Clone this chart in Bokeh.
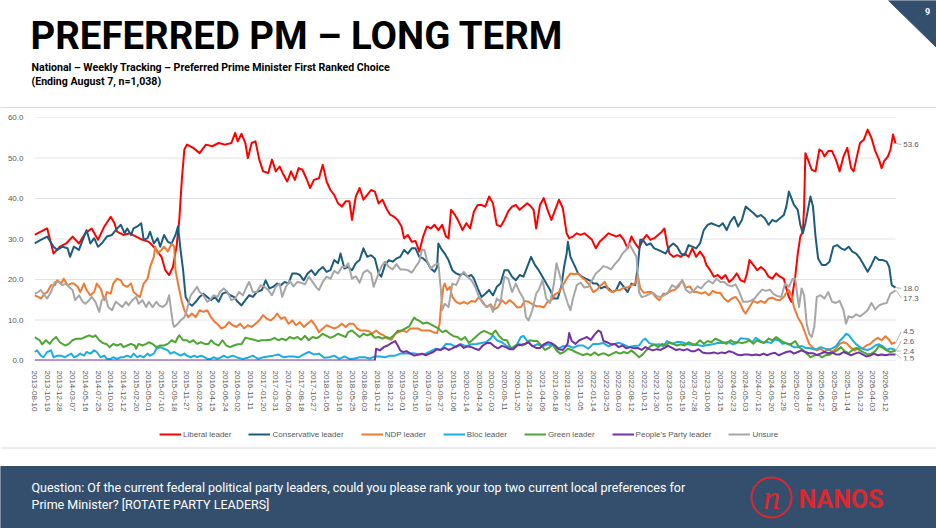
from bokeh.plotting import figure
from bokeh.models import Range1d, FixedTicker, NumeralTickFormatter, Legend, LegendItem
from bokeh.layouts import column
from bokeh.embed import file_html
from bokeh.resources import INLINE
from bokeh.core.properties import value

# ---------------- data ----------------
TICK_LABELS = [
    "2013-08-10", "2013-10-19", "2013-12-28", "2014-03-07", "2014-05-16", "2014-07-25", "2014-10-03",
    "2014-12-12", "2015-02-20", "2015-05-01", "2015-07-10", "2015-09-18", "2015-11-27", "2016-02-05",
    "2016-04-15", "2016-06-24", "2016-09-02", "2016-11-11", "2017-01-20", "2017-03-31", "2017-06-09",
    "2017-08-18", "2017-10-27", "2018-01-05", "2018-03-16", "2018-05-25", "2018-08-03", "2018-10-12",
    "2018-12-21", "2019-03-01", "2019-05-10", "2019-07-19", "2019-09-27", "2019-12-06", "2020-02-14",
    "2020-04-24", "2020-07-03", "2020-09-11", "2020-11-20", "2021-01-29", "2021-04-09", "2021-06-18",
    "2021-08-27", "2021-11-05", "2022-01-14", "2022-03-25", "2022-06-03", "2022-08-12", "2022-10-21",
    "2022-12-30", "2023-03-10", "2023-05-19", "2023-07-28", "2023-10-06", "2023-12-15", "2024-02-23",
    "2024-05-03", "2024-07-12", "2024-09-20", "2024-11-29", "2025-02-07", "2025-04-18", "2025-06-27",
    "2025-09-05", "2025-11-14", "2026-01-23", "2026-04-03", "2026-06-12",
]
WEEKS_PER_TICK = 10
Y_TICKS = [0, 10, 20, 30, 40, 50, 60]

SERIES_NAMES = ["Liberal leader", "Conservative leader", "NDP leader", "Bloc leader",
                "Green leader", "People's Party leader", "Unsure"]

LIB_WK = [0, 5, 10, 15, 20, 25, 30, 35, 40, 45, 50, 55, 60, 63, 65, 70, 75, 80, 85, 90, 95, 100, 103, 106,
          109, 112, 114, 116, 118, 120, 125, 130, 135, 140, 145, 150, 155, 158, 160, 163, 166, 168, 171, 174,
          177, 180, 184, 187, 190, 193, 196, 199, 202, 205, 208, 211, 214, 217, 220, 224, 227, 230, 233, 236,
          239, 242, 245, 248, 250, 253, 256, 259, 262, 265, 268, 271, 274, 277, 280, 283, 286, 289, 291, 294,
          297, 300, 303, 306, 309, 312, 315, 318, 321, 324, 326, 328, 331, 334, 337, 340, 343, 346, 349, 352,
          355, 358, 361, 364, 367, 370, 373, 376, 379, 382, 385, 388, 391, 393, 395, 398, 401, 404, 407, 410,
          413, 416, 419, 421, 424, 427, 430, 433, 436, 439, 442, 445, 448, 452, 455, 458, 461, 464, 467, 470,
          473, 476, 479, 482, 485, 488, 491, 494, 496, 498, 500, 503, 506, 509, 512, 515, 518, 521, 524, 527,
          529, 532, 535, 538, 541, 544, 547, 550, 553, 556, 559, 561, 563, 566, 569, 572, 575, 578, 581, 584,
          587, 590, 592, 594, 596, 599, 601, 603, 605, 606, 607, 609, 612, 615, 618, 620, 622, 625, 628, 631,
          634, 637, 640, 643, 645, 647, 650, 653, 656, 659, 662, 665, 667, 669, 672, 674, 676, 678]
LIB_PCT = [31.0, 31.8, 32.6, 26.4, 28.1, 28.9, 30.6, 28.9, 31.4, 32.6, 29.8, 33.1, 35.5, 33.9, 31.8, 31.0,
           31.4, 30.6, 29.8, 29.3, 27.7, 25.6, 22.3, 21.1, 23.1, 28.5, 34.7, 44.6, 52.1, 53.3, 52.5, 51.2,
           53.3, 52.9, 53.7, 53.3, 53.7, 56.2, 54.1, 56.0, 53.7, 50.0, 53.7, 54.1, 49.6, 46.7, 46.3, 49.6,
           46.7, 47.9, 45.9, 44.2, 46.7, 44.6, 47.5, 47.1, 45.0, 42.6, 44.6, 45.0, 48.3, 44.2, 42.1, 40.9,
           38.8, 38.0, 39.3, 39.3, 34.7, 40.5, 42.6, 39.7, 40.9, 42.1, 41.7, 38.8, 39.7, 37.6, 36.0, 35.5,
           34.7, 33.1, 30.2, 31.0, 29.3, 29.5, 26.9, 30.6, 33.1, 32.6, 33.5, 32.2, 33.5, 30.6, 30.2, 37.2,
           36.0, 34.3, 32.2, 33.9, 32.6, 36.8, 38.4, 38.4, 38.0, 40.5, 38.8, 33.5, 33.1, 34.7, 36.8, 38.0,
           38.4, 37.2, 38.0, 38.8, 38.0, 37.2, 32.6, 38.4, 40.1, 37.2, 34.7, 37.2, 39.7, 37.6, 31.4, 30.2,
           30.6, 31.4, 31.0, 31.4, 30.6, 29.8, 27.7, 29.3, 30.2, 31.4, 31.0, 30.6, 31.0, 29.8, 27.7, 30.6,
           28.9, 27.7, 29.8, 31.0, 29.8, 30.2, 31.0, 31.8, 32.6, 28.9, 26.4, 25.6, 26.0, 25.6, 26.4, 25.6,
           27.7, 25.6, 26.9, 25.6, 23.6, 22.3, 20.7, 21.1, 20.2, 21.1, 19.4, 20.2, 21.5, 19.8, 19.4, 21.5,
           24.8, 23.6, 22.3, 23.1, 22.3, 20.7, 20.2, 21.5, 20.7, 20.2, 17.8, 15.7, 14.5, 20.7, 26.4, 30.6,
           31.8, 38.0, 51.2, 49.6, 47.1, 46.7, 52.1, 51.7, 50.4, 51.7, 51.7, 49.6, 46.7, 50.4, 52.5, 47.5,
           46.7, 49.6, 53.7, 54.5, 57.0, 55.0, 51.7, 49.6, 47.5, 49.2, 50.4, 52.1, 55.8, 53.6]

CON_WK = [0, 5, 10, 15, 18, 22, 26, 28, 31, 35, 39, 41, 44, 47, 50, 53, 57, 61, 65, 68, 71, 73, 76, 78, 81,
          84, 86, 89, 91, 94, 97, 99, 102, 105, 108, 111, 113, 115, 117, 119, 122, 124, 127, 130, 133, 136,
          139, 142, 145, 148, 151, 154, 157, 160, 163, 166, 169, 172, 175, 179, 182, 185, 188, 191, 194, 197,
          200, 203, 206, 209, 212, 215, 218, 221, 224, 227, 230, 233, 236, 239, 241, 244, 247, 250, 253, 256,
          259, 262, 265, 268, 271, 273, 276, 279, 282, 285, 288, 291, 294, 297, 300, 303, 306, 309, 312, 315,
          317, 318, 320, 323, 326, 329, 332, 335, 338, 341, 344, 346, 349, 352, 355, 358, 361, 364, 367, 370,
          373, 376, 379, 382, 385, 388, 391, 394, 397, 400, 403, 406, 409, 412, 415, 417, 419, 420, 422, 425,
          428, 431, 434, 437, 440, 443, 446, 449, 452, 455, 458, 461, 464, 467, 470, 473, 475, 477, 479, 482,
          485, 488, 491, 494, 497, 500, 503, 506, 509, 512, 515, 518, 521, 524, 527, 530, 533, 536, 539, 542,
          545, 548, 551, 554, 557, 560, 563, 566, 569, 572, 575, 578, 581, 584, 587, 590, 592, 594, 596, 598,
          601, 603, 605, 607, 609, 611, 613, 615, 617, 620, 623, 626, 629, 632, 635, 638, 641, 644, 647, 650,
          653, 656, 659, 662, 665, 668, 671, 673, 675, 678]
CON_PCT = [28.9, 29.8, 30.6, 28.1, 27.3, 28.1, 27.7, 25.6, 28.1, 27.3, 30.6, 32.2, 28.9, 30.2, 28.1, 28.9,
           30.6, 31.0, 32.6, 33.5, 31.4, 32.6, 31.0, 32.6, 33.1, 33.9, 29.8, 30.2, 31.8, 28.9, 30.2, 28.1,
           31.0, 29.3, 28.9, 31.0, 33.1, 27.3, 22.3, 15.7, 14.0, 13.5, 14.5, 15.7, 16.5, 15.7, 14.9, 15.7,
           14.5, 16.5, 16.9, 16.1, 15.7, 14.5, 13.6, 14.9, 16.1, 15.7, 16.9, 17.4, 19.8, 17.8, 18.2, 19.0,
           18.6, 19.4, 19.0, 21.5, 21.5, 21.1, 19.8, 21.5, 22.3, 21.1, 22.3, 23.1, 21.9, 22.3, 24.8, 24.0,
           26.4, 22.7, 23.1, 22.3, 24.0, 24.8, 27.7, 25.6, 26.0, 25.2, 21.5, 20.7, 23.6, 24.8, 24.4, 25.2,
           25.6, 27.3, 26.4, 27.7, 27.7, 25.6, 25.2, 24.4, 22.7, 21.9, 23.1, 28.9, 27.7, 26.4, 24.8, 22.3,
           21.5, 21.1, 21.5, 20.7, 21.1, 20.2, 17.8, 15.7, 16.5, 17.4, 16.1, 18.2, 19.0, 22.3, 22.3, 20.7,
           19.8, 21.1, 20.7, 23.1, 25.6, 23.6, 22.3, 20.7, 19.0, 17.4, 15.3, 15.3, 18.6, 23.1, 26.4, 29.3,
           25.6, 23.6, 21.5, 20.7, 20.2, 19.8, 19.0, 19.0, 17.8, 18.2, 17.8, 16.9, 17.4, 19.4, 18.2, 16.9,
           19.0, 18.6, 23.1, 29.8, 29.8, 28.5, 28.9, 27.7, 27.3, 26.9, 26.4, 28.1, 28.9, 28.1, 26.4, 26.0,
           28.5, 28.1, 27.7, 28.9, 32.2, 33.5, 33.9, 33.5, 33.1, 33.9, 32.2, 34.3, 35.5, 33.1, 34.7, 38.0,
           37.2, 36.4, 35.5, 35.9, 35.1, 33.5, 34.7, 34.3, 35.1, 35.9, 38.0, 41.7, 40.1, 38.4, 37.2, 33.5,
           31.4, 33.9, 37.2, 40.5, 38.0, 30.6, 25.2, 23.6, 23.6, 24.4, 28.1, 28.5, 27.7, 27.3, 28.1, 26.9,
           26.4, 25.2, 23.6, 21.9, 23.6, 25.6, 24.8, 24.8, 24.4, 23.1, 18.6, 18.0]

NDP_WK = [0, 3, 5, 8, 10, 13, 16, 18, 21, 23, 26, 29, 31, 34, 36, 39, 41, 44, 47, 49, 52, 55, 57, 60, 62,
          65, 68, 70, 73, 76, 78, 81, 83, 86, 89, 91, 94, 95, 97, 100, 102, 105, 108, 110, 111, 113, 116, 118,
          121, 124, 127, 130, 133, 136, 139, 142, 145, 147, 150, 153, 156, 159, 162, 165, 168, 171, 174, 177,
          180, 183, 186, 189, 191, 194, 197, 200, 203, 206, 209, 212, 215, 218, 221, 224, 227, 230, 233, 236,
          239, 242, 245, 248, 251, 254, 257, 260, 263, 266, 269, 272, 275, 278, 281, 284, 287, 290, 293, 296,
          299, 302, 305, 308, 311, 314, 317, 319, 320, 321, 322, 323, 325, 327, 329, 332, 335, 338, 341, 344,
          347, 350, 353, 356, 359, 362, 365, 368, 371, 374, 377, 380, 383, 386, 389, 392, 395, 398, 401, 404,
          407, 410, 413, 416, 419, 422, 425, 428, 431, 434, 437, 440, 443, 446, 449, 452, 455, 458, 461, 464,
          467, 470, 473, 475, 477, 480, 483, 486, 489, 492, 495, 498, 501, 504, 507, 510, 513, 516, 519, 522,
          525, 528, 531, 534, 537, 540, 543, 546, 549, 552, 555, 558, 560, 563, 566, 569, 572, 575, 578, 581,
          584, 587, 590, 592, 594, 596, 598, 601, 604, 607, 610, 613, 616, 619, 622, 625, 628, 631, 634, 637,
          640, 643, 646, 649, 652, 655, 658, 661, 664, 667, 670, 673, 675, 678]
NDP_PCT = [16.1, 15.7, 15.3, 16.5, 16.9, 18.6, 18.6, 19.8, 19.0, 20.2, 18.6, 19.0, 19.0, 18.2, 16.9, 19.0,
           17.4, 16.1, 16.9, 19.0, 17.8, 14.9, 16.9, 16.5, 19.0, 20.2, 19.8, 18.6, 18.2, 19.0, 16.9, 16.1,
           15.7, 19.0, 20.2, 23.1, 25.6, 28.1, 26.4, 27.3, 28.1, 26.9, 28.9, 28.1, 22.3, 19.0, 14.5, 12.4,
           10.7, 11.6, 10.7, 12.4, 12.0, 12.4, 10.7, 9.5, 8.7, 7.9, 8.3, 9.5, 8.7, 8.3, 9.1, 7.9, 8.7, 8.3,
           9.1, 9.9, 11.2, 10.3, 9.9, 10.7, 11.6, 10.3, 10.7, 9.1, 9.9, 8.7, 9.5, 8.3, 9.1, 9.9, 8.7, 7.0,
           7.9, 8.7, 8.3, 7.9, 8.3, 9.1, 8.3, 9.1, 9.1, 7.9, 7.4, 7.4, 7.3, 6.6, 7.4, 6.6, 6.2, 5.4, 5.1,
           6.6, 7.0, 7.4, 7.0, 7.9, 7.9, 7.9, 7.4, 7.4, 7.4, 7.0, 6.8, 9.1, 13.2, 15.7, 18.2, 19.0, 17.4,
           18.2, 15.7, 14.5, 14.0, 14.5, 14.0, 14.7, 14.5, 15.7, 14.2, 13.2, 13.9, 12.6, 13.2, 14.9, 14.0,
           14.9, 14.2, 13.1, 13.2, 14.7, 14.5, 13.9, 13.4, 13.4, 13.1, 14.5, 14.9, 16.4, 16.9, 18.6, 20.2,
           21.5, 21.3, 21.5, 20.5, 19.8, 18.6, 16.9, 17.5, 18.6, 19.4, 17.4, 16.9, 17.4, 17.4, 18.0, 18.0,
           18.6, 19.0, 21.1, 17.8, 16.7, 16.9, 16.9, 15.7, 14.9, 16.5, 16.5, 17.2, 17.4, 18.2, 19.8, 18.0,
           18.3, 16.9, 16.9, 16.5, 16.9, 16.1, 17.2, 16.7, 16.7, 15.3, 14.5, 15.3, 15.7, 14.5, 12.4, 11.6,
           13.2, 14.7, 14.2, 14.7, 14.2, 15.3, 15.5, 15.0, 14.9, 15.7, 16.7, 17.4, 16.1, 13.2, 10.7, 9.1,
           6.6, 4.1, 3.1, 2.5, 2.9, 2.1, 2.9, 2.1, 2.9, 4.1, 4.5, 4.1, 3.1, 2.5, 3.1, 2.9, 3.7, 4.1, 5.0,
           5.6, 5.0, 6.0, 5.1, 4.1, 4.5]

BLOC_WK = [0, 2, 5, 7, 10, 13, 15, 18, 21, 24, 26, 29, 31, 34, 36, 39, 41, 44, 47, 49, 52, 55, 57, 60, 62,
           65, 68, 70, 73, 76, 78, 81, 83, 86, 89, 91, 94, 96, 99, 102, 105, 107, 110, 112, 115, 118, 120, 123,
           126, 128, 131, 134, 136, 139, 141, 144, 147, 149, 152, 156, 160, 164, 168, 172, 176, 180, 184, 188,
           192, 196, 200, 204, 208, 212, 216, 220, 224, 228, 232, 236, 240, 244, 248, 252, 256, 260, 264, 268,
           272, 276, 280, 284, 288, 292, 296, 300, 304, 308, 312, 316, 320, 324, 328, 332, 336, 340, 344, 348,
           352, 356, 359, 361, 364, 368, 372, 376, 380, 383, 385, 388, 392, 396, 400, 404, 408, 412, 416, 420,
           424, 428, 432, 436, 440, 444, 448, 452, 456, 460, 464, 468, 472, 476, 479, 481, 484, 488, 492, 495,
           498, 502, 506, 510, 514, 518, 522, 526, 530, 534, 538, 542, 546, 550, 553, 556, 559, 562, 565, 568,
           571, 574, 577, 580, 583, 586, 589, 592, 595, 598, 601, 604, 607, 610, 613, 616, 619, 622, 625, 628,
           631, 634, 637, 639, 641, 644, 647, 650, 653, 656, 659, 662, 665, 668, 671, 674, 678]
BLOC_PCT = [2.1, 2.5, 1.2, 0.8, 2.1, 2.5, 0.8, 1.2, 1.2, 0.8, 1.2, 1.7, 0.8, 1.2, 1.7, 1.2, 2.1, 1.7, 2.5,
            2.1, 0.8, 1.2, 0.4, 0.4, 0.8, 0.4, 0.8, 0.8, 1.2, 0.8, 1.7, 0.8, 1.2, 0.8, 1.7, 1.2, 1.7, 2.9,
            3.3, 2.9, 2.5, 1.7, 2.1, 1.7, 1.2, 1.7, 1.2, 0.8, 1.2, 0.8, 1.2, 0.8, 0.4, 0.4, 0.8, 0.4, 0.8,
            1.2, 0.7, 1.2, 0.7, 0.4, 0.7, 1.2, 0.4, 0.8, 1.0, 1.2, 1.5, 0.8, 1.0, 1.0, 0.8, 1.5, 2.1, 1.5,
            1.7, 0.7, 0.8, 1.2, 0.4, 1.0, 0.4, 0.5, 0.8, 0.8, 0.5, 1.0, 1.0, 0.8, 1.2, 1.2, 1.7, 1.7, 1.8,
            1.7, 1.5, 1.7, 2.3, 2.9, 2.6, 4.1, 4.0, 3.3, 4.0, 3.5, 4.0, 4.1, 4.3, 4.6, 5.4, 6.2, 5.0, 4.5,
            3.5, 3.1, 4.0, 5.8, 6.1, 4.8, 3.5, 4.0, 3.5, 4.0, 3.7, 2.9, 3.5, 3.7, 3.1, 3.7, 3.7, 2.9, 4.1,
            4.1, 4.3, 3.5, 4.0, 4.4, 3.9, 3.3, 3.6, 3.7, 5.0, 5.4, 4.3, 3.9, 4.0, 3.5, 4.8, 4.1, 4.6, 4.5,
            4.0, 3.8, 3.8, 3.6, 3.8, 4.0, 4.3, 4.3, 4.6, 4.0, 4.3, 5.5, 5.4, 5.3, 4.5, 5.6, 5.0, 4.3, 4.6,
            4.3, 5.2, 5.0, 4.1, 4.3, 3.8, 3.3, 3.3, 3.6, 3.1, 3.1, 2.8, 2.8, 3.3, 3.0, 2.6, 3.0, 3.5, 4.8,
            5.8, 6.6, 6.3, 5.1, 4.0, 3.3, 2.8, 2.6, 3.0, 3.7, 4.0, 3.5, 2.6, 3.0, 2.6]

GRN_WK = [0, 4, 6, 9, 12, 14, 17, 20, 24, 27, 30, 33, 37, 40, 43, 46, 48, 51, 54, 57, 59, 62, 65, 68, 70,
          73, 76, 79, 80, 82, 85, 88, 90, 93, 96, 99, 102, 105, 108, 111, 113, 114, 117, 120, 122, 125, 128,
          131, 134, 137, 139, 142, 145, 148, 151, 154, 157, 160, 163, 166, 169, 173, 176, 179, 182, 186, 189,
          192, 195, 198, 201, 204, 207, 210, 213, 216, 219, 222, 224, 227, 230, 233, 236, 239, 242, 245, 247,
          250, 253, 256, 259, 262, 265, 268, 271, 274, 277, 280, 283, 286, 289, 292, 295, 297, 299, 300, 303,
          306, 309, 312, 315, 318, 321, 324, 327, 330, 333, 336, 339, 342, 345, 348, 351, 354, 357, 360, 363,
          366, 369, 372, 375, 378, 381, 384, 387, 390, 393, 396, 399, 402, 405, 408, 411, 414, 417, 420, 423,
          426, 429, 432, 435, 438, 441, 444, 447, 449, 452, 455, 458, 461, 464, 467, 470, 473, 476, 479, 482,
          485, 488, 491, 494, 497, 500, 503, 506, 509, 512, 515, 518, 521, 524, 527, 530, 533, 536, 539, 542,
          545, 548, 551, 554, 557, 560, 563, 566, 569, 572, 575, 578, 581, 584, 587, 590, 593, 596, 599, 602,
          605, 608, 611, 614, 617, 620, 623, 626, 629, 632, 635, 638, 641, 644, 647, 650, 653, 656, 659, 662,
          665, 668, 671, 674, 678]
GRN_PCT = [5.8, 5.0, 4.0, 5.0, 4.1, 5.0, 5.8, 4.5, 3.7, 4.1, 5.0, 5.4, 5.4, 5.8, 6.2, 5.8, 6.2, 5.0, 4.3,
           4.0, 3.3, 4.1, 3.7, 4.1, 3.3, 3.7, 4.1, 3.7, 2.9, 4.1, 3.7, 4.1, 4.5, 4.1, 3.3, 3.7, 3.7, 4.1,
           5.0, 4.5, 5.8, 6.2, 5.0, 5.0, 4.5, 5.0, 4.1, 4.5, 4.1, 4.1, 5.0, 4.1, 3.7, 5.0, 3.7, 3.3, 3.7,
           4.0, 4.0, 5.6, 5.4, 5.1, 4.8, 5.0, 5.0, 5.1, 5.6, 5.0, 5.4, 5.0, 5.8, 5.4, 5.8, 5.1, 6.1, 5.0,
           5.8, 5.5, 5.8, 6.6, 6.1, 5.6, 6.0, 6.6, 6.2, 5.8, 7.0, 7.4, 6.6, 5.8, 6.6, 6.2, 6.6, 5.6, 5.8,
           5.4, 5.8, 5.5, 6.2, 7.3, 7.4, 7.9, 8.4, 9.5, 10.6, 10.3, 9.8, 9.1, 9.4, 8.9, 8.4, 7.9, 7.0, 7.4,
           6.6, 6.0, 5.8, 5.1, 5.8, 4.3, 5.1, 6.0, 6.8, 7.3, 6.9, 6.4, 7.4, 6.0, 5.1, 5.0, 3.1, 3.3, 4.1,
           3.7, 4.1, 5.0, 4.8, 4.8, 3.7, 2.6, 3.1, 4.0, 2.5, 1.7, 2.1, 2.9, 2.6, 2.1, 1.7, 1.3, 1.7, 1.3,
           2.0, 1.3, 1.7, 1.7, 1.2, 1.7, 2.1, 1.7, 2.1, 1.8, 2.5, 1.7, 0.8, 1.5, 2.6, 3.5, 4.0, 3.3, 4.1,
           3.7, 4.5, 4.1, 3.7, 4.0, 3.7, 4.5, 4.1, 4.0, 5.0, 4.1, 4.8, 4.5, 5.4, 5.0, 4.5, 4.1, 5.0, 4.5,
           4.5, 4.3, 4.5, 5.0, 4.1, 5.0, 4.5, 4.5, 5.4, 5.0, 5.8, 5.1, 4.5, 4.1, 4.1, 4.8, 3.3, 2.6, 1.7,
           0.8, 1.2, 1.5, 0.8, 1.3, 1.4, 2.0, 2.5, 3.3, 2.3, 1.8, 2.6, 3.1, 2.5, 2.0, 1.5, 1.7, 2.3, 3.6,
           3.1, 2.5, 2.1, 2.4]

PPC_WK = [0, 268, 269, 272, 275, 278, 281, 284, 286, 288, 290, 293, 296, 299, 302, 305, 308, 311, 314, 317,
          320, 323, 326, 329, 332, 335, 338, 341, 344, 347, 350, 353, 356, 359, 362, 365, 368, 371, 374, 377,
          380, 383, 386, 389, 392, 395, 398, 401, 404, 407, 410, 413, 416, 419, 420, 421, 423, 426, 429, 432,
          435, 438, 441, 444, 446, 448, 451, 454, 457, 460, 463, 466, 469, 472, 475, 478, 481, 484, 487, 490,
          493, 496, 499, 502, 505, 508, 511, 514, 517, 520, 523, 526, 529, 532, 535, 538, 541, 544, 547, 550,
          553, 556, 559, 562, 565, 568, 571, 574, 577, 580, 583, 586, 589, 592, 595, 598, 601, 604, 607, 610,
          613, 616, 619, 622, 625, 628, 631, 634, 637, 640, 643, 646, 649, 652, 655, 658, 661, 664, 667, 670,
          673, 678]
PPC_PCT = [0.0, 0.0, 2.9, 2.5, 3.3, 3.7, 4.3, 4.8, 3.7, 2.5, 2.1, 2.3, 1.7, 1.2, 1.4, 1.7, 1.3, 1.7, 2.1,
           2.8, 2.6, 3.1, 2.6, 3.0, 3.5, 4.0, 3.1, 3.5, 3.3, 2.9, 2.6, 3.7, 4.3, 4.3, 3.5, 3.0, 3.6, 3.3,
           2.8, 2.8, 3.7, 3.9, 4.1, 4.5, 3.6, 3.1, 3.1, 4.0, 4.5, 4.3, 3.7, 2.8, 2.6, 3.7, 4.5, 6.8, 4.8,
           4.1, 5.0, 5.4, 5.8, 5.1, 6.4, 7.4, 7.0, 4.8, 4.5, 4.0, 4.1, 3.3, 3.7, 3.0, 3.3, 3.0, 3.1, 2.6,
           3.3, 2.8, 2.5, 2.8, 2.6, 3.1, 3.6, 3.1, 2.6, 2.8, 2.5, 2.8, 2.3, 2.3, 2.8, 2.0, 1.8, 1.8, 2.0,
           1.7, 2.0, 1.8, 2.3, 2.0, 1.5, 1.3, 1.5, 1.5, 1.3, 1.5, 1.3, 1.7, 1.3, 1.7, 1.9, 1.3, 1.7, 2.1,
           2.3, 1.7, 2.1, 2.5, 2.1, 1.8, 1.8, 1.3, 1.7, 2.1, 1.8, 2.0, 1.5, 1.5, 2.1, 1.7, 1.3, 1.7, 2.0,
           1.5, 1.0, 1.2, 1.7, 1.3, 1.5, 1.3, 1.5, 1.5]

UNS_WK = [0, 3, 5, 8, 10, 13, 16, 19, 22, 25, 27, 30, 32, 35, 38, 40, 43, 45, 48, 51, 53, 56, 58, 61, 64,
          66, 69, 72, 74, 77, 80, 82, 85, 88, 90, 93, 96, 98, 101, 104, 106, 109, 110, 113, 115, 118, 120, 123,
          125, 128, 130, 133, 136, 138, 141, 144, 146, 149, 152, 155, 158, 161, 164, 167, 169, 172, 175, 178,
          181, 184, 187, 190, 193, 195, 198, 201, 204, 207, 210, 213, 216, 219, 222, 224, 227, 230, 233, 236,
          239, 242, 245, 247, 250, 253, 256, 259, 262, 265, 267, 270, 273, 276, 279, 282, 285, 288, 291, 294,
          297, 300, 303, 305, 307, 309, 312, 315, 318, 320, 321, 323, 326, 329, 332, 335, 338, 341, 344, 347,
          350, 353, 356, 359, 361, 364, 367, 370, 373, 376, 379, 382, 385, 387, 389, 392, 395, 397, 400, 403,
          406, 409, 411, 414, 417, 420, 422, 424, 427, 430, 433, 436, 439, 442, 445, 448, 451, 454, 457, 460,
          463, 466, 468, 471, 474, 476, 478, 481, 484, 487, 490, 493, 496, 499, 502, 505, 508, 510, 513, 516,
          519, 522, 525, 528, 531, 534, 537, 540, 543, 546, 549, 552, 555, 558, 561, 564, 567, 570, 573, 576,
          579, 582, 585, 588, 591, 594, 597, 599, 601, 602, 604, 606, 608, 610, 612, 614, 616, 619, 622, 625,
          628, 631, 634, 637, 639, 641, 644, 647, 650, 653, 656, 659, 662, 665, 668, 671, 674, 676, 678]
UNS_PCT = [16.5, 16.9, 17.4, 16.1, 15.3, 16.9, 19.4, 19.4, 18.6, 19.0, 18.2, 17.4, 14.9, 16.1, 14.5, 14.0,
           14.9, 15.7, 14.5, 12.0, 14.9, 15.7, 13.2, 12.4, 14.5, 14.0, 13.2, 14.5, 13.6, 14.9, 15.7, 14.0,
           14.9, 13.2, 14.5, 13.2, 14.5, 13.6, 13.2, 14.0, 16.1, 9.1, 8.3, 9.1, 9.9, 10.7, 12.4, 16.1, 16.9,
           18.2, 16.9, 16.1, 14.5, 14.9, 16.1, 15.7, 16.9, 17.8, 16.9, 14.9, 15.3, 16.9, 16.1, 18.2, 19.4,
           16.9, 16.9, 18.6, 18.2, 17.4, 16.1, 18.2, 19.0, 15.7, 18.2, 19.7, 18.3, 19.4, 19.2, 18.8, 20.7,
           19.4, 18.0, 17.4, 19.4, 20.7, 20.2, 22.1, 21.5, 23.1, 23.1, 24.0, 20.2, 20.8, 19.2, 21.7, 22.3,
           21.5, 18.2, 20.7, 23.1, 24.4, 23.1, 22.5, 23.8, 22.5, 22.5, 22.3, 21.7, 23.1, 24.4, 27.3, 27.3,
           24.8, 22.7, 23.6, 24.0, 17.4, 12.4, 14.0, 13.2, 19.0, 18.6, 20.7, 21.9, 20.7, 19.8, 18.2, 15.7,
           14.5, 13.2, 13.6, 12.0, 15.3, 14.5, 20.7, 20.2, 16.9, 19.0, 16.9, 15.3, 10.7, 9.9, 12.4, 16.5,
           17.4, 19.8, 15.3, 14.2, 19.0, 24.0, 20.7, 16.9, 14.0, 12.4, 15.3, 18.6, 19.2, 18.0, 18.2, 19.8,
           21.5, 22.3, 23.3, 23.0, 22.5, 23.8, 24.8, 26.4, 27.4, 28.9, 27.3, 25.6, 16.9, 15.7, 15.9, 16.4,
           16.7, 15.9, 15.7, 16.1, 16.9, 18.6, 18.0, 19.0, 19.8, 17.4, 16.7, 17.2, 18.3, 17.8, 19.0, 19.7,
           19.0, 20.2, 19.4, 19.4, 18.6, 18.3, 18.8, 16.9, 14.5, 14.5, 14.7, 15.3, 16.5, 17.5, 17.2, 17.5,
           16.4, 15.9, 15.7, 19.0, 18.2, 20.2, 20.2, 15.3, 13.2, 17.8, 16.1, 9.1, 6.6, 5.8, 8.3, 15.7, 16.1,
           15.3, 16.9, 14.5, 14.2, 14.7, 12.4, 9.1, 10.9, 10.6, 11.4, 10.9, 11.6, 12.4, 14.2, 12.6, 13.6,
           14.0, 14.2, 16.5, 16.9, 17.3]

# ---------------- styling ----------------
COLORS = ["#FF0000", "#1C5C7E", "#EE7B35", "#1DADE5", "#4CA631", "#7231A5", "#A6A6A6"]
NAVY = "#344F6E"
LOGO_RED = "#E0262D"
TXT = "#595959"
FONT = "Liberation Sans"
HEAD = "Roboto"
# y position (chart units) of each end-of-line label, in series order
END_LABEL_Y = [53.3, 17.8, 7.2, 4.8, 2.3, 0.5, 15.4]

series = [(LIB_WK, LIB_PCT), (CON_WK, CON_PCT), (NDP_WK, NDP_PCT), (BLOC_WK, BLOC_PCT),
          (GRN_WK, GRN_PCT), (PPC_WK, PPC_PCT), (UNS_WK, UNS_PCT)]

W = 936


def no_align(fig):
    if "frame_align" in fig.properties():
        fig.frame_align = False


# ---------------- header (page y 0..108) ----------------
hdr = figure(width=W, height=108, x_range=Range1d(0, W), y_range=Range1d(108, 0),
             output_backend="svg", toolbar_location=None, x_axis_type=None, y_axis_type=None,
             min_border=0, title=None)
no_align(hdr)
hdr.grid.visible = False
hdr.outline_line_color = None
hdr.patch([888, 936, 936], [0, 0, 47], color=NAVY)
hdr.text(x=[927], y=[11], text=["9"], text_font=value(HEAD), text_font_style="bold",
         text_font_size="9px", text_color="white", text_align="center", text_baseline="middle")
hdr.text(x=[30], y=[35], text=["PREFERRED PM \u2013 LONG TERM"], text_font=value(HEAD),
         text_font_style="bold", text_font_size="38.4px", text_color="#000000",
         text_baseline="middle")
hdr.text(x=[31, 31], y=[66.5, 80.5],
         text=["National \u2013 Weekly Tracking \u2013 Preferred Prime Minister First Ranked Choice",
               "(Ending August 7, n=1,038)"],
         text_font=value(HEAD), text_font_style="bold", text_font_size="10.6px",
         text_color="#000000", text_baseline="middle")
hdr.segment(x0=[0], y0=[107], x1=[W], y1=[107], line_color="#DADADA", line_width=1)

# ---------------- chart (page y 108..420) ----------------
p = figure(width=W, height=312, x_range=Range1d(0, 700), y_range=Range1d(0, 60),
           output_backend="svg", toolbar_location=None, title=None,
           min_border_left=34, min_border_right=13, min_border_top=9, min_border_bottom=60)
no_align(p)
p.outline_line_color = None
p.grid.visible = False
last_wk = LIB_WK[-1]
p.segment(x0=[0] * len(Y_TICKS), y0=Y_TICKS, x1=[last_wk] * len(Y_TICKS), y1=Y_TICKS,
          line_color="#E2E2E2", line_width=1)

tick_pos = [i * WEEKS_PER_TICK for i in range(len(TICK_LABELS))]
p.xaxis.ticker = FixedTicker(ticks=tick_pos)
p.xaxis.major_label_overrides = {t: lab for t, lab in zip(tick_pos, TICK_LABELS)}
p.xaxis.major_label_orientation = "vertical"
p.xaxis.major_label_text_font = FONT
p.xaxis.major_label_text_font_size = "8px"
p.xaxis.major_label_text_color = TXT
p.xaxis.major_label_standoff = 4
p.xaxis.axis_line_color = None
p.xaxis.major_tick_line_color = None
p.xaxis.minor_tick_line_color = None

p.yaxis.ticker = FixedTicker(ticks=Y_TICKS)
p.yaxis.formatter = NumeralTickFormatter(format="0.0")
p.yaxis.major_label_text_font = FONT
p.yaxis.major_label_text_font_size = "8px"
p.yaxis.major_label_text_color = TXT
p.yaxis.major_label_standoff = 5
p.yaxis.axis_line_color = None
p.yaxis.major_tick_line_color = None
p.yaxis.minor_tick_line_color = None

for (wk, pct), col in zip(series, COLORS):
    p.line(wk, pct, line_color=col, line_width=2, line_join="round")

finals = [pct[-1] for wk, pct in series]
lab_x = last_wk + 6
p.segment(x0=[last_wk + 0.5] * 7, y0=finals, x1=[lab_x - 1.5] * 7, y1=END_LABEL_Y,
          line_color="#A6A6A6", line_width=0.8)
p.text(x=[lab_x] * 7, y=END_LABEL_Y, text=["%.1f" % v for v in finals], text_font=value(FONT),
       text_font_size="8px", text_color=TXT, text_baseline="middle", text_align="left")

# ---------------- footer (page y 420..528) with legend ----------------
ftr = figure(width=W, height=108, x_range=Range1d(0, W), y_range=Range1d(528, 420),
             output_backend="svg", toolbar_location=None, x_axis_type=None, y_axis_type=None,
             min_border=0, title=None)
no_align(ftr)
ftr.grid.visible = False
ftr.outline_line_color = None
ftr.segment(x0=[0], y0=[447.5], x1=[W], y1=[447.5], line_color="#DADADA", line_width=1)
ftr.quad(left=[0], right=[W], top=[466], bottom=[528], color=NAVY)
ftr.text(x=[31, 31], y=[487, 504],
         text=["Question: Of the current federal political party leaders, could you please rank your "
               "top two current local preferences for",
               "Prime Minister? [ROTATE PARTY LEADERS]"],
         text_font=value(HEAD), text_font_size="12.5px", text_color="white",
         text_baseline="middle")
ftr.circle(x=[771], y=[497], radius=20, fill_color=None, line_color=LOGO_RED, line_width=2)
ftr.text(x=[771], y=[497], text=["n"], text_font=value("Liberation Serif"), text_font_style="italic",
         text_font_size="34px", text_color=LOGO_RED, text_align="center", text_baseline="middle")
ftr.text(x=[798], y=[499], text=["NANOS"], text_font=value(HEAD), text_font_style="bold",
         text_font_size="25px", text_color=LOGO_RED, text_baseline="middle")

nan = float("nan")
items = []
for name, col in zip(SERIES_NAMES, COLORS):
    r = ftr.line(x=[nan], y=[nan], line_color=col, line_width=2)
    items.append(LegendItem(label=name, renderers=[r]))
legend = Legend(items=items, orientation="horizontal", location=(159, 89),
                label_text_font=FONT, label_text_font_size="8px", label_text_color=TXT,
                glyph_width=22, glyph_height=10, label_height=10, label_standoff=2,
                spacing=17, padding=2, margin=0, border_line_color=None,
                background_fill_alpha=0)
ftr.add_layout(legend)

page = column(hdr, p, ftr, spacing=0)
open("out.html", "w").write(file_html(page, INLINE))
